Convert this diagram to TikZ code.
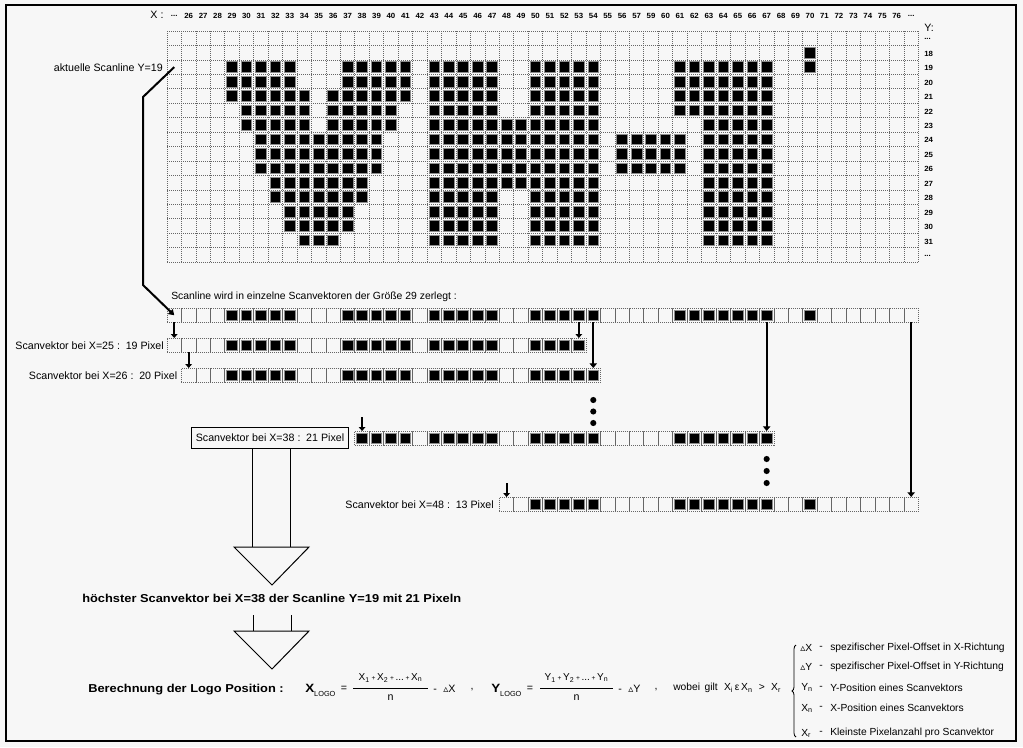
\documentclass[tikz,border=0pt]{standalone}
\usepackage{fontspec}
\setmainfont{Liberation Sans}
\newfontfamily\bfw[FakeStretch=1.12]{Liberation Sans Bold}
\newfontfamily\lblf[FakeStretch=1.05]{Liberation Sans Bold}
\newfontfamily\dejavu{DejaVu Sans}
\usetikzlibrary{arrows.meta,decorations.pathreplacing,calc}
\definecolor{bg}{HTML}{F7F7F7}
\newcommand\dlt{{\dejavu\fontsize{7.5}{7.5}\selectfont ▵}}
\newcommand\pl{\,{\fontsize{5}{5}\selectfont +}\,}
\newcommand\cw{14.45}
\tikzset{
 gridline/.style={black!60, line width=0.55pt, dash pattern=on 0.75pt off 0.75pt},
 cellbox/.style={draw=black!60, line width=0.55pt, dash pattern=on 0.75pt off 0.75pt, minimum size=10.84pt, inner sep=0, outer sep=0},
 pix/.style={fill=black, draw=black!45, line width=0.6pt, minimum size=8pt, inner sep=0},
 collab/.style={font=\lblf\fontsize{5.6}{5.6}\selectfont, inner sep=0},
 rowlab/.style={font=\lblf\fontsize{5.6}{5.6}\selectfont, inner sep=0, anchor=west},
 lbl/.style={font=\fontsize{8}{9.6}\selectfont, inner sep=0},
 leg/.style={font=\fontsize{7.7}{9}\selectfont, inner sep=0, anchor=west},
 boldlbl/.style={font=\bfw\fontsize{8.6}{10}\selectfont, inner sep=0, anchor=west},
 arr/.style={line width=1.6pt, -{Triangle[length=3pt,width=5pt]}},
 longarr/.style={line width=1.6pt, -{Triangle[length=3.5pt,width=5.5pt]}},
 dotn/.style={circle, fill=black, minimum size=4.6pt, inner sep=0},
 block/.style={line width=0.75pt, fill=bg},
}
% row of scan cells: name, first index, last index, top y
\newcommand\mkrow[4]{%
  \foreach \i in {#2,...,#3} {\node[cellbox] (#1-\i) at ({167+\cw*(\i+0.5)},{#4+0.5*\cw}) {};}
  \foreach \ra/\rb in {4/8,12/16,18/22,25/29,35/41,44/44} {%
    \foreach \i in {\ra,...,\rb} {%
      \ifnum\i<#2\relax\else\ifnum\i>#3\relax\else\node[pix] at (#1-\i) {};\fi\fi}}%
}
\begin{document}
\begin{tikzpicture}[x=0.75pt,y=-0.75pt]
\fill[bg] (0,0) rectangle (1023,747);
\useasboundingbox (0,0) rectangle (1023,747);
\draw[line width=1.5pt] (6,5) rectangle (1016,741);

% ---------- pixel grid ----------
\foreach \i in {0,...,52} \draw[gridline] ({167+\cw*\i},31) -- ({167+\cw*\i},{31+16*\cw});
\foreach \j in {0,...,16} \draw[gridline] (167,{31+\cw*\j}) -- ({167+52*\cw},{31+\cw*\j});
\foreach \row/\rng in {1/{44/44},
  2/{4/8,12/16,18/22,25/29,35/41,44/44},
  3/{4/8,12/16,18/22,25/29,35/41},
  4/{4/9,11/16,18/22,25/29,35/41},
  5/{5/9,11/15,18/22,25/29,35/41},
  6/{5/9,11/15,18/29,37/41},
  7/{6/14,18/29,31/35,37/41},
  8/{6/14,18/29,31/35,37/41},
  9/{6/14,18/29,31/35,37/41},
  10/{7/13,18/29,37/41},
  11/{7/13,18/22,25/29,37/41},
  12/{8/12,18/22,25/29,37/41},
  13/{8/12,18/22,25/29,37/41},
  14/{9/11,18/22,25/29,37/41}} {
  \foreach \ra/\rb in \rng {
    \foreach \i in {\ra,...,\rb} {
      \node[pix] at ({167+\cw*(\i+0.5)},{31+\cw*(\row+0.5)}) {};}}}
\coordinate (g19) at ({167+\cw*0.5},{31+\cw*2.5});

% column labels
\node[lbl] (xh) at (157,15) {X :};
\foreach \i in {0,...,51} {
  \ifnum\i=0 \def\lab{...}\else\ifnum\i=51 \def\lab{...}\else
    \ifnum\i<33 \pgfmathtruncatemacro\lab{25+\i}\else\pgfmathtruncatemacro\lab{26+\i}\fi\fi\fi
  \node[collab] (c-\i) at ({167+\cw*(\i+0.5)},16) {\lab};
}
% row labels
\node[lbl, anchor=west] (yh) at (924,28) {Y:};
\foreach \row in {0,...,15} {
  \ifnum\row=0 \def\lab{...}\else\ifnum\row=15 \def\lab{...}\else\pgfmathtruncatemacro\lab{17+\row}\fi\fi
  \node[rowlab] (r-\row) at (924,{31+\cw*(\row+0.5)+1}) {\lab};
}
\node[lbl, anchor=east] (cur) at (163,67.5) {aktuelle Scanline Y=19};

% ---------- scanline and scan vectors ----------
\node[lbl, anchor=west, font=\fontsize{7.8}{9}\selectfont] (sltext) at (171,297) {Scanline wird in einzelne Scanvektoren der Größe 29 zerlegt :};
\mkrow{s}{0}{51}{308}
\mkrow{va}{0}{28}{338}
\mkrow{vb}{1}{29}{368}
\mkrow{vc}{13}{41}{431}
\mkrow{vd}{23}{51}{497}

\node[lbl, anchor=east] (la) at (164,345.8) {Scanvektor bei X=25 :\, 19 Pixel};
\node[lbl, anchor=east] (lb) at (177.5,375.8) {Scanvektor bei X=26 :\, 20 Pixel};
\node[lbl, draw, line width=0.75pt, fill=bg, minimum width=117.75pt, minimum height=15.75pt, anchor=east] (box38) at (349,437.8) {Scanvektor bei X=38 :\, 21 Pixel};
\node[lbl, anchor=east] (ld) at (494,504.5) {Scanvektor bei X=48 :\, 13 Pixel};

% pointer from current scanline
\coordinate (bendA) at (143,97);
\coordinate (bendB) at (143,285);
\draw[line width=1.5pt, -{Triangle[length=4pt,width=5pt]}] (g19) -- (bendA) -- (bendB) -- (s-0.center);

% arrows between rows
\draw[arr] (s-0.south) -- (va-0.north);
\draw[arr] (va-1.south) -- (vb-1.north);
\draw[arr] (s-28.south) -- (va-28.north);
\draw[longarr] (s-29.south) -- (vb-29.north);
\draw[longarr] (s-41.south) -- (vc-41.north);
\draw[longarr] (s-51.south) -- (vd-51.north);
\coordinate (pc) at ($(vc-13.north)+(0,-14)$);
\coordinate (pd) at ($(vd-23.north)+(0,-14)$);
\draw[arr] (pc) -- (vc-13.north);
\draw[arr] (pd) -- (vd-23.north);

% dots
\foreach \yy [count=\k] in {400,411.5,423} \node[dotn] (d1-\k) at (s-29 |- 0,\yy) {};
\foreach \yy [count=\k] in {459,471,483} \node[dotn] (d2-\k) at (s-41 |- 0,\yy) {};

% ---------- block arrows ----------
\draw[line width=0.75pt] ([xshift=-13.1pt]box38.south) -- ++(0,99);
\draw[line width=0.75pt] ([xshift=15.4pt]box38.south) -- ++(0,99);
\draw[block] (234,547) -- (309,547) -- (272,585) -- cycle;
\node[boldlbl] (maxt) at (82,598) {höchster Scanvektor bei X=38 der Scanline Y=19 mit 21 Pixeln};
\draw[line width=0.75pt] (253,615) -- (253,631);
\draw[line width=0.75pt] (291,615) -- (291,631);
\draw[block] (234,631) -- (309,631) -- (272,669) -- cycle;

% ---------- formula ----------
\node[boldlbl] (calc) at (88,690) {Berechnung der Logo Position :};
\node[inner sep=0, anchor=west] (xl) at (305,690) {{\bfw\fontsize{9}{10}\selectfont X}\raisebox{-3pt}{\fontsize{5.5}{6}\selectfont LOGO}};
\node[lbl] (eq1) at (344,689) {=};
\node[inner sep=0, font=\fontsize{7.5}{8}\selectfont] (n1) at (390.5,678) {X\textsubscript{1}\pl X\textsubscript{2}\pl...\pl X\textsubscript{n}};
\draw[line width=0.6pt] (353,688) -- (428,688);
\node[lbl] (dn1) at (390.5,698) {n};
\node[lbl, anchor=west] (m1) at (433,689) {-\,\, \dlt X};
\node[lbl] (cm1) at (472,690) {,};
\node[inner sep=0, anchor=west] (yl) at (491,690) {{\bfw\fontsize{9}{10}\selectfont Y}\raisebox{-3pt}{\fontsize{5.5}{6}\selectfont LOGO}};
\node[lbl] (eq2) at (530,689) {=};
\node[inner sep=0, font=\fontsize{7.5}{8}\selectfont] (n2) at (576.5,678) {Y\textsubscript{1}\pl Y\textsubscript{2}\pl...\pl Y\textsubscript{n}};
\draw[line width=0.6pt] (540,688) -- (613,688);
\node[lbl] (dn2) at (576.5,698) {n};
\node[lbl, anchor=west] (m2) at (618,689) {-\,\, \dlt Y};
\node[lbl] (cm2) at (656,690) {,};
\node[leg] (wob) at (673,688) {wobei\, gilt\,\, X\textsubscript{i}\,ε\,X\textsubscript{n}\,\, >\,\, X\textsubscript{r}};
\draw[line width=0.6pt, decorate, decoration={brace, amplitude=3pt}] (796,737) -- (796,645);
\node[leg] (s1) at (800,648.3) {\dlt X};
\node[leg] (s2) at (800,667.3) {\dlt Y};
\node[leg] (s3) at (801,687.7) {Y\textsubscript{n}};
\node[leg] (s4) at (801,708.3) {X\textsubscript{n}};
\node[leg] (s5) at (801,733.3) {X\textsubscript{r}};
\foreach \yy [count=\k] in {648.3,667.3,687.7,708.3,733.3} \node[leg] (h\k) at (819,\yy) {-};
\node[leg] (t1) at (830,648.3) {spezifischer Pixel-Offset in X-Richtung};
\node[leg] (t2) at (830,667.3) {spezifischer Pixel-Offset in Y-Richtung};
\node[leg] (t3) at (830,687.7) {Y-Position eines Scanvektors};
\node[leg] (t4) at (830,708.3) {X-Position eines Scanvektors};
\node[leg] (t5) at (830,733.3) {Kleinste Pixelanzahl pro Scanvektor};
\end{tikzpicture}
\end{document}
